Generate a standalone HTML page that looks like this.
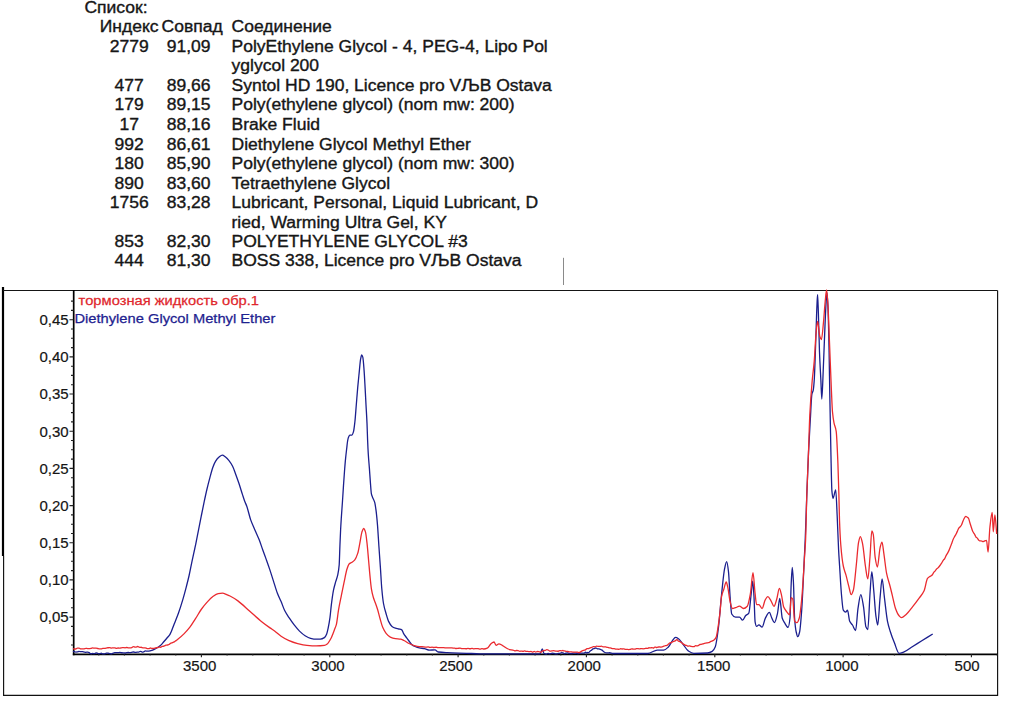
<!DOCTYPE html>
<html><head><meta charset="utf-8"><title>Spectrum</title>
<style>
html,body{margin:0;padding:0;background:#fff;}
svg{display:block;}
text{font-family:"Liberation Sans",Arial,sans-serif;}
</style></head>
<body>
<svg width="1009" height="705" viewBox="0 0 1009 705">
<rect x="0" y="0" width="1009" height="705" fill="#fff"/>
<g transform="scale(1.095 1)" font-size="16" fill="#161616" stroke="#161616" stroke-width="0.35">
<text x="77.08" y="12.70">Список:</text>
<text x="117.99" y="32.16" text-anchor="middle">Индекс</text>
<text x="147.58" y="32.16">Совпад</text>
<text x="211.42" y="32.16">Соединение</text>
<text x="117.99" y="51.62" text-anchor="middle">2779</text>
<text x="172.24" y="51.62" text-anchor="middle">91,09</text>
<text x="211.42" y="51.62">PolyEthylene Glycol - 4, PEG-4, Lipo Pol</text>
<text x="211.42" y="71.08">yglycol 200</text>
<text x="117.99" y="90.54" text-anchor="middle">477</text>
<text x="172.24" y="90.54" text-anchor="middle">89,66</text>
<text x="211.42" y="90.54">Syntol HD 190, Licence pro VЉB Ostava</text>
<text x="117.99" y="110.40" text-anchor="middle">179</text>
<text x="172.24" y="110.40" text-anchor="middle">89,15</text>
<text x="211.42" y="110.40">Poly(ethylene glycol) (nom mw: 200)</text>
<text x="117.99" y="130.36" text-anchor="middle">17</text>
<text x="172.24" y="130.36" text-anchor="middle">88,16</text>
<text x="211.42" y="130.36">Brake Fluid</text>
<text x="117.99" y="149.82" text-anchor="middle">992</text>
<text x="172.24" y="149.82" text-anchor="middle">86,61</text>
<text x="211.42" y="149.82">Diethylene Glycol Methyl Ether</text>
<text x="117.99" y="169.28" text-anchor="middle">180</text>
<text x="172.24" y="169.28" text-anchor="middle">85,90</text>
<text x="211.42" y="169.28">Poly(ethylene glycol) (nom mw: 300)</text>
<text x="117.99" y="188.74" text-anchor="middle">890</text>
<text x="172.24" y="188.74" text-anchor="middle">83,60</text>
<text x="211.42" y="188.74">Tetraethylene Glycol</text>
<text x="117.99" y="208.20" text-anchor="middle">1756</text>
<text x="172.24" y="208.20" text-anchor="middle">83,28</text>
<text x="211.42" y="208.20">Lubricant, Personal, Liquid Lubricant, D</text>
<text x="211.42" y="227.66">ried, Warming Ultra Gel, KY</text>
<text x="117.99" y="247.12" text-anchor="middle">853</text>
<text x="172.24" y="247.12" text-anchor="middle">82,30</text>
<text x="211.42" y="247.12">POLYETHYLENE GLYCOL #3</text>
<text x="117.99" y="266.18" text-anchor="middle">444</text>
<text x="172.24" y="266.18" text-anchor="middle">81,30</text>
<text x="211.42" y="266.18">BOSS 338, Licence pro VЉB Ostava</text>
</g>
<line x1="563.5" y1="257.8" x2="563.5" y2="285" stroke="#8a8a8a" stroke-width="1"/>
<!-- outer frame -->
<path d="M3,287 V556" stroke="#000" stroke-width="2.2" fill="none"/>
<path d="M3.6,556 V695.4 H997.6 V290.5" stroke="#111" stroke-width="1.15" fill="none"/>
<path d="M3,290.5 H997.6" stroke="#151515" stroke-width="1.1" fill="none"/>
<!-- axes -->
<path d="M73.7,290 V655.2" stroke="#000" stroke-width="1.7" fill="none"/>
<path d="M72.8,654.3 H997.5" stroke="#000" stroke-width="1.7" fill="none"/>
<path d="M71.0,645.0H73.5 M71.0,635.7H73.5 M71.0,626.4H73.5 M69.5,617.1H73.5 M71.0,607.8H73.5 M71.0,598.5H73.5 M71.0,589.2H73.5 M69.5,579.9H73.5 M71.0,570.6H73.5 M71.0,561.3H73.5 M71.0,552.1H73.5 M69.5,542.8H73.5 M71.0,533.5H73.5 M71.0,524.2H73.5 M71.0,514.9H73.5 M69.5,505.6H73.5 M71.0,496.3H73.5 M71.0,487.0H73.5 M71.0,477.7H73.5 M69.5,468.4H73.5 M71.0,459.1H73.5 M71.0,449.8H73.5 M71.0,440.5H73.5 M69.5,431.2H73.5 M71.0,421.9H73.5 M71.0,412.6H73.5 M71.0,403.3H73.5 M69.5,394.0H73.5 M71.0,384.7H73.5 M71.0,375.4H73.5 M71.0,366.2H73.5 M69.5,356.9H73.5 M71.0,347.6H73.5 M71.0,338.3H73.5 M71.0,329.0H73.5 M69.5,319.7H73.5 M71.0,310.4H73.5 M71.0,301.1H73.5 M98.8,654.3V655.5 M124.4,654.3V655.5 M150.1,654.3V655.5 M175.8,654.3V655.5 M201.4,654.3V657.3 M227.1,654.3V655.5 M252.8,654.3V655.5 M278.4,654.3V655.5 M304.1,654.3V655.5 M329.8,654.3V657.3 M355.4,654.3V655.5 M381.1,654.3V655.5 M406.8,654.3V655.5 M432.4,654.3V655.5 M458.1,654.3V657.3 M483.8,654.3V655.5 M509.4,654.3V655.5 M535.1,654.3V655.5 M560.8,654.3V655.5 M586.4,654.3V657.3 M612.1,654.3V655.5 M637.8,654.3V655.5 M663.4,654.3V655.5 M689.1,654.3V655.5 M714.8,654.3V657.3 M740.4,654.3V655.5 M766.1,654.3V655.5 M791.8,654.3V655.5 M817.4,654.3V655.5 M843.1,654.3V657.3 M868.8,654.3V655.5 M894.4,654.3V655.5 M920.1,654.3V655.5 M945.8,654.3V655.5 M971.4,654.3V657.3 M997.1,654.3V655.5" stroke="#222" stroke-width="1.1" fill="none"/>
<g font-size="15" fill="#151515" stroke="#151515" stroke-width="0.2">
<text x="68.6" y="622.4" text-anchor="end">0,05</text>
<text x="68.6" y="585.2" text-anchor="end">0,10</text>
<text x="68.6" y="548.1" text-anchor="end">0,15</text>
<text x="68.6" y="510.9" text-anchor="end">0,20</text>
<text x="68.6" y="473.7" text-anchor="end">0,25</text>
<text x="68.6" y="436.5" text-anchor="end">0,30</text>
<text x="68.6" y="399.3" text-anchor="end">0,35</text>
<text x="68.6" y="362.2" text-anchor="end">0,40</text>
<text x="68.6" y="325.0" text-anchor="end">0,45</text>
<text x="183.0" y="670.6">3500</text>
<text x="311.3" y="670.6">3000</text>
<text x="439.2" y="670.6">2500</text>
<text x="567.6" y="670.6">2000</text>
<text x="697.1" y="670.6">1500</text>
<text x="825.2" y="670.6">1000</text>
<text x="954.6" y="670.6">500</text>
</g>
<!-- legend -->
<g transform="scale(1.09 1)" font-size="13.5">
<text x="72.11" y="305.0" fill="#e0262c" stroke="#e0262c" stroke-width="0.25">тормозная жидкость обр.1</text>
<text x="68.26" y="322.8" fill="#1e2290" stroke="#1e2290" stroke-width="0.25">Diethylene Glycol Methyl Ether</text>
</g>
<!-- curves -->
<path d="M73.00,651.80C73.33,651.67 73.67,651.41 74.00,651.41C74.57,651.41 75.13,652.07 75.70,652.07C76.27,652.07 76.83,652.01 77.40,651.94C77.97,651.87 78.53,651.38 79.10,651.38C79.40,651.38 79.70,651.57 80.00,651.60C80.27,651.63 80.53,651.64 80.80,651.65C81.37,651.68 81.93,651.68 82.50,651.72C83.07,651.75 83.63,651.94 84.20,652.03C84.77,652.12 85.33,652.28 85.90,652.28C86.47,652.28 87.03,652.15 87.60,652.15C88.17,652.15 88.73,652.39 89.30,652.68C89.53,652.80 89.77,653.28 90.00,653.40C90.33,653.58 90.67,653.75 91.00,653.75C91.57,653.75 92.13,653.36 92.70,653.36C93.27,653.36 93.83,653.71 94.40,653.71C94.97,653.71 95.53,652.96 96.10,652.96C96.67,652.96 97.23,653.30 97.80,653.42C98.37,653.54 98.93,653.72 99.50,653.72C100.07,653.72 100.63,653.24 101.20,653.24C101.77,653.24 102.33,653.97 102.90,653.97C103.47,653.97 104.03,653.96 104.60,653.95C105.17,653.93 105.73,653.09 106.30,653.09C106.87,653.09 107.43,653.10 108.00,653.11C108.57,653.11 109.13,653.53 109.70,653.64C110.27,653.74 110.83,653.86 111.40,653.86C111.97,653.86 112.53,653.26 113.10,653.09C113.67,652.92 114.23,652.72 114.80,652.72C115.37,652.71 115.93,652.71 116.50,652.71C117.00,652.71 117.50,652.64 118.00,652.60C118.63,652.55 119.27,652.43 119.90,652.43C120.47,652.43 121.03,652.67 121.60,652.74C122.17,652.81 122.73,652.86 123.30,652.90C123.87,652.94 124.43,653.00 125.00,653.00C125.57,653.00 126.13,652.69 126.70,652.63C127.27,652.57 127.83,652.51 128.40,652.51C128.97,652.51 129.53,652.65 130.10,652.65C130.67,652.65 131.23,652.49 131.80,652.38C132.37,652.28 132.93,652.01 133.50,652.01C134.00,652.01 134.50,652.40 135.00,652.40C135.63,652.40 136.27,652.27 136.90,652.22C137.47,652.17 138.03,652.16 138.60,652.09C139.17,652.01 139.73,651.41 140.30,651.41C140.63,651.41 140.97,651.50 141.30,651.60C141.53,651.67 141.77,652.04 142.00,652.04C142.57,652.04 143.13,651.92 143.70,651.79C144.27,651.66 144.83,650.93 145.40,650.93C145.93,650.93 146.47,651.20 147.00,651.20C147.60,651.20 148.20,651.15 148.80,651.10C149.87,651.00 150.93,650.64 152.00,650.30C153.33,649.88 154.67,649.21 156.00,648.50C157.47,647.72 158.93,646.84 160.40,645.60C161.60,644.59 162.80,642.88 164.00,641.50C165.00,640.35 166.00,639.20 167.00,638.00C168.00,636.80 169.00,635.91 170.00,634.30C171.43,631.99 172.87,627.29 174.30,623.70C175.70,620.19 177.10,616.92 178.50,613.00C179.93,608.98 181.37,604.44 182.80,599.60C183.97,595.66 185.13,591.28 186.30,586.80C187.23,583.21 188.17,579.63 189.10,575.50C190.07,571.23 191.03,565.87 192.00,561.30C192.93,556.89 193.87,552.82 194.80,548.50C195.10,547.11 195.40,545.75 195.70,544.30C196.63,539.80 197.57,534.83 198.50,530.10C199.43,525.37 200.37,520.55 201.30,515.90C202.27,511.08 203.23,506.25 204.20,501.70C205.13,497.31 206.07,492.93 207.00,489.00C207.97,484.93 208.93,481.20 209.90,477.60C210.83,474.13 211.77,470.29 212.70,467.70C213.63,465.11 214.57,462.76 215.50,461.30C216.70,459.42 217.90,458.04 219.10,457.10C220.17,456.27 221.23,455.20 222.30,455.20C223.37,455.20 224.43,456.31 225.50,457.10C226.67,457.97 227.83,459.17 229.00,460.60C230.20,462.07 231.40,463.94 232.60,466.30C233.53,468.14 234.47,470.91 235.40,473.40C236.57,476.51 237.73,479.83 238.90,483.30C240.10,486.87 241.30,490.89 242.50,494.60C243.20,496.76 243.90,499.13 244.60,501.00C245.30,502.87 246.00,504.06 246.70,506.00C248.03,509.70 249.37,516.13 250.70,519.90C252.10,523.86 253.50,526.62 254.90,529.90C256.33,533.26 257.77,536.15 259.20,539.80C260.37,542.77 261.53,546.45 262.70,549.70C263.90,553.05 265.10,556.24 266.30,559.60C267.47,562.87 268.63,566.11 269.80,569.60C271.00,573.19 272.20,577.16 273.40,580.90C274.73,585.06 276.07,589.84 277.40,593.30C278.63,596.50 279.87,598.69 281.10,601.60C282.33,604.51 283.57,608.37 284.80,610.80C286.33,613.82 287.87,615.89 289.40,618.20C290.93,620.51 292.47,622.74 294.00,624.70C295.83,627.05 297.67,629.33 299.50,631.10C301.37,632.90 303.23,634.58 305.10,635.70C306.93,636.80 308.77,637.85 310.60,638.30C312.43,638.75 314.27,639.20 316.10,639.20C317.50,639.20 318.90,639.20 320.30,639.20C321.67,639.20 323.03,638.51 324.40,637.60C325.17,637.09 325.93,635.71 326.70,633.90C327.17,632.80 327.63,630.57 328.10,628.40C328.73,625.45 329.37,621.88 330.00,617.30C330.47,613.92 330.93,608.08 331.40,604.40C332.10,598.88 332.80,593.65 333.50,590.20C334.23,586.59 334.97,584.34 335.70,581.70C336.40,579.18 337.10,577.88 337.80,574.60C338.27,572.41 338.73,570.26 339.20,564.70C339.43,561.92 339.67,552.06 339.90,546.30C340.13,540.54 340.37,534.61 340.60,530.00C340.83,525.39 341.07,521.65 341.30,518.00C341.70,511.74 342.10,506.95 342.50,501.00C342.83,496.04 343.17,490.36 343.50,485.40C343.83,480.44 344.17,475.47 344.50,471.20C344.87,466.50 345.23,462.12 345.60,458.40C345.97,454.68 346.33,451.67 346.70,448.50C347.00,445.91 347.30,442.65 347.60,441.00C347.90,439.35 348.20,437.98 348.50,437.30C348.97,436.24 349.43,435.20 349.90,435.20C350.53,435.20 351.17,435.20 351.80,435.20C352.37,435.20 352.93,433.48 353.50,431.60C353.97,430.05 354.43,425.87 354.90,421.70C355.37,417.53 355.83,410.38 356.30,404.70C356.77,399.02 357.23,392.77 357.70,387.60C358.17,382.43 358.63,377.97 359.10,373.40C359.60,368.50 360.10,361.91 360.60,359.20C360.97,357.21 361.33,354.90 361.70,354.90C362.07,354.90 362.43,355.89 362.80,357.10C363.23,358.53 363.67,364.95 364.10,370.60C364.43,374.94 364.77,381.61 365.10,387.60C365.40,392.99 365.70,399.09 366.00,404.70C366.33,410.93 366.67,415.55 367.00,423.10C367.20,427.63 367.40,435.26 367.60,440.00C367.83,445.53 368.07,450.46 368.30,454.20C368.67,460.08 369.03,463.44 369.40,468.40C369.73,472.91 370.07,478.40 370.40,482.60C370.73,486.80 371.07,492.33 371.40,493.90C371.80,495.79 372.20,496.34 372.60,497.40C373.30,499.25 374.00,499.93 374.70,502.40C375.17,504.04 375.63,507.36 376.10,510.90C376.57,514.44 377.03,519.43 377.50,525.10C377.97,530.77 378.43,539.46 378.90,546.30C379.40,553.63 379.90,560.27 380.40,567.60C380.87,574.44 381.33,583.62 381.80,588.80C382.37,595.09 382.93,600.36 383.50,603.50C384.37,608.30 385.23,610.71 386.10,613.70C386.93,616.57 387.77,619.69 388.60,621.40C389.73,623.73 390.87,625.65 392.00,626.50C393.13,627.35 394.27,627.84 395.40,628.20C396.53,628.56 397.67,628.70 398.80,629.00C399.80,629.26 400.80,629.34 401.80,629.90C402.37,630.22 402.93,632.34 403.50,633.30C404.50,635.00 405.50,636.21 406.50,637.60C407.33,638.76 408.17,639.89 409.00,641.00C409.87,642.16 410.73,643.66 411.60,644.40C412.73,645.37 413.87,646.01 415.00,646.50C416.43,647.12 417.87,647.62 419.30,647.90C421.00,648.23 422.70,648.28 424.40,648.60C426.10,648.92 427.80,650.10 429.50,650.10C431.33,650.10 433.17,649.90 435.00,649.90C436.07,649.90 437.13,651.83 438.20,652.00C441.20,652.48 444.20,652.56 447.20,652.70C453.63,653.00 460.07,653.08 466.50,653.30C471.00,653.45 475.50,653.80 480.00,653.80C500.00,653.80 520.00,653.80 540.00,653.80C540.77,653.80 541.53,649.00 542.30,649.00C542.87,649.00 543.43,653.23 544.00,653.50C544.33,653.66 544.67,653.70 545.00,653.78C545.50,653.90 546.00,654.08 546.50,654.08C547.00,654.08 547.50,653.34 548.00,653.34C548.50,653.34 549.00,653.89 549.50,653.89C550.00,653.89 550.50,653.76 551.00,653.65C551.50,653.54 552.00,653.12 552.50,653.12C553.00,653.12 553.50,653.37 554.00,653.50C554.50,653.63 555.00,653.89 555.50,653.89C556.00,653.89 556.50,653.86 557.00,653.82C557.50,653.78 558.00,653.34 558.50,653.33C559.00,653.31 559.50,653.32 560.00,653.30C560.50,653.28 561.00,652.64 561.50,652.64C562.00,652.64 562.50,652.79 563.00,652.93C563.50,653.07 564.00,653.70 564.50,653.70C565.00,653.70 565.50,653.30 566.00,653.16C566.50,653.01 567.00,652.81 567.50,652.81C568.00,652.81 568.50,653.23 569.00,653.33C569.50,653.43 570.00,653.54 570.50,653.54C571.00,653.54 571.50,653.52 572.00,653.49C572.50,653.47 573.00,653.07 573.50,653.07C574.00,653.07 574.50,653.12 575.00,653.15C575.50,653.18 576.00,653.19 576.50,653.24C577.00,653.29 577.50,653.61 578.00,653.61C578.50,653.61 579.00,653.33 579.50,653.25C580.00,653.17 580.50,653.06 581.00,653.06C581.50,653.06 582.00,653.19 582.50,653.19C583.00,653.20 583.50,653.20 584.00,653.20C584.50,653.20 585.00,652.27 585.50,652.27C586.00,652.27 586.50,652.90 587.00,652.90C587.20,652.90 587.40,652.50 587.60,652.50C587.90,652.50 588.20,652.67 588.50,652.67C589.00,652.67 589.50,651.68 590.00,651.27C590.50,650.85 591.00,650.53 591.50,650.14C592.00,649.74 592.50,649.14 593.00,648.91C593.50,648.68 594.00,648.65 594.50,648.43C594.83,648.29 595.17,647.80 595.50,647.80C596.17,647.80 596.83,648.70 597.50,648.80C598.00,648.88 598.50,648.88 599.00,648.95C599.43,649.01 599.87,649.15 600.30,649.30C600.87,649.49 601.43,649.73 602.00,650.08C602.50,650.39 603.00,651.11 603.50,651.50C604.00,651.89 604.50,652.35 605.00,652.50C605.50,652.65 606.00,652.78 606.50,652.80C607.00,652.81 607.50,652.82 608.00,652.82C608.50,652.82 609.00,652.74 609.50,652.74C610.67,652.74 611.83,653.50 613.00,653.50C624.60,653.50 636.20,653.50 647.80,653.50C650.97,653.50 654.13,650.10 657.30,650.10C659.43,650.10 661.57,650.10 663.70,650.10C665.27,650.10 666.83,648.48 668.40,647.00C669.73,645.74 671.07,642.23 672.40,640.60C673.47,639.30 674.53,637.40 675.60,637.40C676.67,637.40 677.73,638.25 678.80,639.00C680.10,639.91 681.40,642.18 682.70,643.80C684.57,646.13 686.43,649.69 688.30,650.90C690.13,652.09 691.97,653.30 693.80,653.30C698.37,653.30 702.93,653.22 707.50,653.00C709.07,652.92 710.63,652.31 712.20,651.40C713.23,650.80 714.27,649.20 715.30,646.70C716.33,644.20 717.37,635.94 718.40,628.00C719.43,620.06 720.47,604.97 721.50,595.20C722.53,585.43 723.57,573.52 724.60,568.70C725.30,565.43 726.00,561.70 726.70,561.70C727.30,561.70 727.90,566.80 728.50,571.80C729.03,576.24 729.57,590.01 730.10,596.80C730.63,603.59 731.17,613.10 731.70,614.00C733.00,616.19 734.30,617.10 735.60,617.10C736.90,617.10 738.20,617.10 739.50,617.10C740.53,617.10 741.57,620.20 742.60,620.20C743.63,620.20 744.67,616.53 745.70,615.50C746.73,614.47 747.77,614.66 748.80,613.20C749.60,612.07 750.40,600.29 751.20,593.70C751.70,589.58 752.20,581.20 752.70,581.20C753.13,581.20 753.57,589.93 754.00,596.80C754.37,602.61 754.73,619.74 755.10,621.80C755.60,624.61 756.10,626.40 756.60,626.40C757.37,626.40 758.13,624.90 758.90,624.90C759.97,624.90 761.03,627.20 762.10,627.20C763.13,627.20 764.17,620.62 765.20,618.60C766.60,615.86 768.00,612.40 769.40,612.40C770.17,612.40 770.93,616.23 771.70,617.80C772.60,619.65 773.50,622.70 774.40,622.70C775.43,622.70 776.47,617.64 777.50,613.30C778.27,610.08 779.03,598.50 779.80,598.50C780.60,598.50 781.40,615.40 782.20,618.00C782.97,620.49 783.73,621.46 784.50,622.70C785.70,624.64 786.90,627.40 788.10,627.40C788.73,627.40 789.37,623.64 790.00,618.00C790.40,614.44 790.80,591.50 791.20,583.70C791.57,576.55 791.93,567.30 792.30,567.30C792.70,567.30 793.10,576.06 793.50,583.70C793.87,590.71 794.23,612.81 794.60,618.00C795.13,625.55 795.67,629.65 796.20,632.00C796.73,634.35 797.27,636.70 797.80,636.70C798.40,636.70 799.00,634.47 799.60,632.00C800.30,629.12 801.00,619.71 801.70,610.20C802.37,601.14 803.03,584.64 803.70,571.20C804.20,561.12 804.70,551.93 805.20,540.00C805.73,527.28 806.27,509.21 806.80,495.10C807.37,480.11 807.93,464.52 808.50,452.60C809.10,439.98 809.70,430.22 810.30,420.00C810.83,410.91 811.37,396.78 811.90,394.20C812.33,392.11 812.77,392.39 813.20,390.40C813.53,388.87 813.87,385.31 814.20,380.80C814.70,374.03 815.20,356.20 815.70,342.50C816.13,330.63 816.57,312.87 817.00,304.20C817.20,300.20 817.40,294.60 817.60,294.60C817.87,294.60 818.13,306.22 818.40,313.70C818.77,323.99 819.13,342.42 819.50,352.00C819.97,364.19 820.43,371.29 820.90,380.80C821.20,386.91 821.50,399.00 821.80,399.00C822.27,399.00 822.73,381.61 823.20,371.20C823.70,360.05 824.20,344.72 824.70,332.90C825.13,322.66 825.57,310.66 826.00,304.20C826.33,299.23 826.67,292.70 827.00,292.70C827.33,292.70 827.67,300.67 828.00,308.00C828.37,316.06 828.73,333.95 829.10,352.00C829.33,363.48 829.57,381.73 829.80,395.00C830.17,415.85 830.53,436.42 830.90,452.60C831.23,467.31 831.57,487.04 831.90,490.90C832.27,495.14 832.63,498.30 833.00,498.30C833.90,498.30 834.80,489.80 835.70,489.80C836.20,489.80 836.70,506.18 837.20,516.40C837.67,525.93 838.13,541.14 838.60,550.00C838.93,556.33 839.27,560.76 839.60,566.00C840.20,575.43 840.80,587.02 841.40,593.70C842.03,600.75 842.67,609.25 843.30,610.20C844.10,611.40 844.90,612.10 845.70,612.10C846.30,612.10 846.90,610.20 847.50,610.20C848.23,610.20 848.97,619.73 849.70,621.30C850.63,623.30 851.57,623.59 852.50,625.00C853.53,626.56 854.57,630.50 855.60,630.50C856.40,630.50 857.20,613.58 858.00,608.40C858.93,602.36 859.87,594.60 860.80,594.60C861.70,594.60 862.60,601.33 863.50,606.60C864.30,611.28 865.10,624.85 865.90,626.80C866.53,628.35 867.17,629.60 867.80,629.60C868.53,629.60 869.27,603.93 870.00,593.70C870.60,585.33 871.20,571.60 871.80,571.60C872.43,571.60 873.07,583.30 873.70,590.00C874.43,597.76 875.17,610.65 875.90,615.80C876.50,620.02 877.10,625.00 877.70,625.00C878.50,625.00 879.30,605.58 880.10,597.40C880.77,590.59 881.43,578.90 882.10,578.90C882.87,578.90 883.63,591.36 884.40,597.40C885.43,605.54 886.47,616.16 887.50,621.30C888.37,625.61 889.23,628.22 890.10,631.00C891.57,635.70 893.03,639.50 894.50,643.10C896.03,646.87 897.57,653.30 899.10,653.30C900.60,653.30 902.10,652.70 903.60,652.20C906.63,651.18 909.67,648.40 912.70,646.50C915.73,644.60 918.77,642.70 921.80,640.80C925.43,638.53 929.07,636.27 932.70,634.00" stroke="#1b1f8e" stroke-width="1.3" fill="none" stroke-linejoin="round"/>
<path d="M73.00,648.50C73.33,648.67 73.67,649.01 74.00,649.01C74.57,649.01 75.13,649.02 75.70,649.02C76.27,649.02 76.83,648.05 77.40,648.05C77.97,648.05 78.53,648.07 79.10,648.09C79.67,648.12 80.23,648.93 80.80,648.93C81.37,648.93 81.93,648.86 82.50,648.84C83.07,648.81 83.63,648.82 84.20,648.78C84.47,648.76 84.73,648.67 85.00,648.60C85.30,648.53 85.60,648.35 85.90,648.35C86.47,648.35 87.03,648.61 87.60,648.61C88.17,648.61 88.73,648.57 89.30,648.55C89.87,648.52 90.43,648.50 91.00,648.45C91.57,648.40 92.13,647.92 92.70,647.92C93.27,647.92 93.83,648.15 94.40,648.15C94.97,648.15 95.53,648.10 96.10,648.10C96.67,648.10 97.23,648.38 97.80,648.50C98.37,648.62 98.93,648.83 99.50,648.83C100.07,648.83 100.63,648.83 101.20,648.82C101.77,648.81 102.33,648.45 102.90,648.41C103.47,648.36 104.03,648.37 104.60,648.33C105.17,648.29 105.73,648.18 106.30,648.08C106.87,647.98 107.43,647.79 108.00,647.74C108.57,647.69 109.13,647.65 109.70,647.65C110.27,647.65 110.83,648.04 111.40,648.04C111.97,648.04 112.53,647.81 113.10,647.80C113.67,647.78 114.23,647.78 114.80,647.78C115.37,647.78 115.93,648.37 116.50,648.37C117.07,648.37 117.63,648.02 118.20,648.02C118.77,648.02 119.33,648.11 119.90,648.11C120.47,648.11 121.03,647.89 121.60,647.80C122.17,647.70 122.73,647.53 123.30,647.53C123.87,647.53 124.43,647.80 125.00,647.80C125.57,647.80 126.13,647.52 126.70,647.52C127.27,647.52 127.83,647.87 128.40,647.87C128.93,647.87 129.47,647.84 130.00,647.80C130.60,647.76 131.20,647.68 131.80,647.54C132.37,647.41 132.93,646.58 133.50,646.58C134.07,646.58 134.63,647.11 135.20,647.11C135.77,647.11 136.33,646.97 136.90,646.82C137.20,646.74 137.50,646.40 137.80,646.40C138.07,646.40 138.33,646.74 138.60,646.86C139.17,647.12 139.73,647.47 140.30,647.47C140.53,647.47 140.77,647.20 141.00,647.20C141.33,647.20 141.67,647.56 142.00,647.64C142.57,647.78 143.13,647.92 143.70,647.92C144.13,647.92 144.57,647.80 145.00,647.80C145.70,647.80 146.40,648.44 147.10,648.54C147.67,648.62 148.23,648.69 148.80,648.69C149.37,648.69 149.93,647.98 150.50,647.98C151.00,647.98 151.50,648.50 152.00,648.50C152.63,648.50 153.27,648.47 153.90,648.42C154.47,648.38 155.03,647.96 155.60,647.86C156.17,647.76 156.73,647.74 157.30,647.65C157.53,647.61 157.77,647.56 158.00,647.50C158.33,647.42 158.67,647.22 159.00,647.22C159.57,647.22 160.13,647.23 160.70,647.23C161.27,647.23 161.83,646.37 162.40,646.31C162.97,646.25 163.53,646.27 164.10,646.21C164.40,646.17 164.70,645.79 165.00,645.60C165.27,645.43 165.53,645.15 165.80,645.12C166.37,645.05 166.93,645.08 167.50,645.02C168.07,644.96 168.63,644.64 169.20,644.36C169.77,644.08 170.33,643.46 170.90,643.20C171.27,643.03 171.63,642.94 172.00,642.80C172.77,642.51 173.53,642.28 174.30,641.87C174.87,641.58 175.43,641.05 176.00,640.63C176.60,640.19 177.20,639.78 177.80,639.30C179.93,637.60 182.07,635.72 184.20,633.60C186.10,631.71 188.00,629.65 189.90,627.20C191.77,624.79 193.63,621.62 195.50,618.70C197.40,615.73 199.30,612.17 201.20,609.50C203.10,606.83 205.00,604.51 206.90,602.40C208.80,600.29 210.70,598.05 212.60,596.70C214.47,595.37 216.33,593.89 218.20,593.60C219.63,593.38 221.07,593.20 222.50,593.20C223.90,593.20 225.30,594.07 226.70,594.60C227.80,595.01 228.90,595.46 230.00,596.00C232.63,597.29 235.27,599.01 237.90,600.90C241.87,603.75 245.83,607.83 249.80,611.30C253.77,614.77 257.73,618.52 261.70,621.70C264.47,623.92 267.23,625.91 270.00,627.90C271.53,629.00 273.07,629.97 274.60,631.10C276.77,632.69 278.93,634.77 281.10,636.20C283.57,637.83 286.03,639.33 288.50,640.40C291.57,641.73 294.63,642.83 297.70,643.60C300.77,644.37 303.83,645.14 306.90,645.40C309.97,645.66 313.03,645.90 316.10,645.90C318.87,645.90 321.63,645.74 324.40,645.40C325.33,645.28 326.27,644.68 327.20,644.00C328.43,643.10 329.67,640.79 330.90,638.50C332.13,636.21 333.37,632.56 334.60,629.30C335.20,627.72 335.80,626.64 336.40,624.30C337.10,621.57 337.80,614.18 338.50,610.10C339.43,604.65 340.37,600.55 341.30,595.90C342.27,591.08 343.23,586.25 344.20,581.70C345.13,577.31 346.07,571.87 347.00,569.00C347.70,566.85 348.40,564.71 349.10,564.00C350.07,563.02 351.03,562.90 352.00,562.20C352.93,561.53 353.87,560.95 354.80,559.80C355.77,558.61 356.73,556.37 357.70,553.40C358.40,551.25 359.10,546.94 359.80,543.40C360.50,539.86 361.20,534.20 361.90,532.10C362.47,530.40 363.03,528.50 363.60,528.50C364.23,528.50 364.87,530.16 365.50,532.10C366.07,533.83 366.63,539.78 367.20,544.90C367.67,549.12 368.13,555.30 368.60,560.50C369.07,565.70 369.53,571.43 370.00,576.10C370.47,580.77 370.93,585.95 371.40,588.80C372.03,592.66 372.67,595.15 373.30,597.30C374.00,599.67 374.70,601.02 375.40,603.00C376.13,605.07 376.87,607.09 377.60,609.50C378.43,612.24 379.27,615.90 380.10,618.80C380.97,621.82 381.83,625.29 382.70,627.30C383.83,629.93 384.97,631.93 386.10,633.30C387.50,634.99 388.90,636.47 390.30,637.10C392.00,637.87 393.70,638.35 395.40,638.60C397.10,638.85 398.80,638.82 400.50,639.10C401.63,639.29 402.77,639.96 403.90,640.50C405.60,641.31 407.30,642.68 409.00,643.50C410.70,644.32 412.40,645.12 414.10,645.60C415.83,646.08 417.57,646.58 419.30,646.70C419.53,646.72 419.77,646.73 420.00,646.73C420.67,646.73 421.33,646.69 422.00,646.69C422.67,646.69 423.33,646.79 424.00,646.87C424.67,646.95 425.33,647.21 426.00,647.21C426.67,647.21 427.33,646.94 428.00,646.94C428.67,646.94 429.33,647.43 430.00,647.43C430.67,647.43 431.33,647.09 432.00,647.09C432.67,647.09 433.33,647.52 434.00,647.52C434.33,647.52 434.67,647.33 435.00,647.30C435.33,647.27 435.67,647.23 436.00,647.23C436.67,647.23 437.33,647.71 438.00,647.71C438.67,647.71 439.33,647.67 440.00,647.65C440.67,647.64 441.33,647.62 442.00,647.62C442.67,647.62 443.33,647.68 444.00,647.72C444.67,647.77 445.33,647.87 446.00,647.90C446.67,647.92 447.33,647.95 448.00,647.95C448.67,647.95 449.33,647.88 450.00,647.88C450.67,647.88 451.33,647.89 452.00,647.91C452.67,647.92 453.33,648.15 454.00,648.18C454.20,648.19 454.40,648.19 454.60,648.20C455.07,648.22 455.53,648.50 456.00,648.50C456.67,648.50 457.33,648.43 458.00,648.37C458.67,648.31 459.33,648.09 460.00,648.09C460.67,648.09 461.33,648.59 462.00,648.59C462.67,648.59 463.33,648.59 464.00,648.59C464.67,648.59 465.33,648.75 466.00,648.75C466.67,648.75 467.33,648.38 468.00,648.38C468.67,648.38 469.33,648.76 470.00,648.76C470.67,648.76 471.33,648.40 472.00,648.40C472.67,648.40 473.33,648.81 474.00,648.81C474.67,648.81 475.33,648.64 476.00,648.64C476.67,648.64 477.33,648.65 478.00,648.67C478.67,648.68 479.33,649.11 480.00,649.11C480.67,649.11 481.33,648.70 482.00,648.70C482.67,648.70 483.33,649.01 484.00,649.01C485.10,649.01 486.20,648.64 487.30,648.20C488.53,647.71 489.77,644.77 491.00,643.80C492.00,643.01 493.00,642.00 494.00,642.00C494.73,642.00 495.47,645.30 496.20,645.30C497.10,645.30 498.00,643.80 498.90,643.80C500.00,643.80 501.10,644.73 502.20,645.30C504.17,646.32 506.13,648.29 508.10,649.00C510.07,649.71 512.03,649.86 514.00,650.50C514.33,650.61 514.67,650.90 515.00,650.90C515.53,650.90 516.07,650.48 516.60,650.48C517.13,650.48 517.67,650.52 518.20,650.58C518.73,650.64 519.27,651.31 519.80,651.31C520.33,651.31 520.87,651.03 521.40,651.03C521.93,651.03 522.47,651.42 523.00,651.42C523.53,651.42 524.07,650.93 524.60,650.93C525.13,650.93 525.67,651.36 526.20,651.36C526.73,651.36 527.27,651.32 527.80,651.32C528.17,651.32 528.53,651.70 528.90,651.70C529.60,651.70 530.30,651.38 531.00,651.38C531.53,651.38 532.07,652.20 532.60,652.20C533.13,652.20 533.67,651.41 534.20,651.41C534.73,651.41 535.27,652.08 535.80,652.08C536.33,652.08 536.87,651.48 537.40,651.48C537.93,651.48 538.47,651.62 539.00,651.73C539.53,651.85 540.07,652.28 540.60,652.28C541.13,652.28 541.67,651.41 542.20,651.15C542.73,650.90 543.27,650.65 543.80,650.57C544.33,650.48 544.87,650.50 545.40,650.41C545.87,650.33 546.33,649.70 546.80,649.70C547.40,649.70 548.00,649.95 548.60,650.22C548.97,650.39 549.33,651.20 549.70,651.20C550.40,651.20 551.10,650.92 551.80,650.84C552.33,650.78 552.87,650.70 553.40,650.70C553.93,650.70 554.47,650.87 555.00,650.95C555.53,651.02 556.07,651.12 556.60,651.16C557.13,651.20 557.67,651.24 558.20,651.24C558.73,651.24 559.27,650.64 559.80,650.64C560.33,650.64 560.87,650.80 561.40,650.80C561.93,650.80 562.47,650.49 563.00,650.49C563.27,650.49 563.53,650.88 563.80,650.90C564.07,650.92 564.33,650.92 564.60,650.93C565.13,650.97 565.67,651.31 566.20,651.38C566.73,651.45 567.27,651.46 567.80,651.52C568.33,651.58 568.87,651.81 569.40,651.83C569.93,651.85 570.47,651.84 571.00,651.86C571.53,651.88 572.07,652.10 572.60,652.12C573.13,652.13 573.67,652.14 574.20,652.14C574.73,652.14 575.27,652.11 575.80,652.09C576.33,652.07 576.87,652.03 577.40,652.03C577.93,652.03 578.47,652.58 579.00,652.58C579.53,652.58 580.07,652.12 580.60,651.83C581.13,651.55 581.67,651.06 582.20,650.84C582.73,650.62 583.27,650.50 583.80,650.35C584.33,650.20 584.87,650.15 585.40,649.94C585.93,649.73 586.47,648.71 587.00,648.64C587.53,648.57 588.07,648.59 588.60,648.53C589.13,648.46 589.67,648.01 590.20,647.83C590.73,647.66 591.27,647.61 591.80,647.42C592.33,647.24 592.87,646.56 593.40,646.56C593.93,646.56 594.47,646.78 595.00,646.78C595.53,646.78 596.07,646.05 596.60,646.05C597.13,646.05 597.67,646.47 598.20,646.47C598.73,646.47 599.27,646.44 599.80,646.40C600.33,646.37 600.87,646.14 601.40,646.14C601.93,646.14 602.47,646.89 603.00,646.89C603.53,646.89 604.07,646.83 604.60,646.83C605.13,646.83 605.67,646.98 606.20,647.07C606.73,647.16 607.27,647.25 607.80,647.37C608.33,647.48 608.87,647.69 609.40,647.80C609.93,647.91 610.47,647.94 611.00,648.06C611.53,648.18 612.07,648.68 612.60,648.68C613.13,648.68 613.67,648.65 614.20,648.65C614.73,648.65 615.27,649.14 615.80,649.16C616.33,649.18 616.87,649.18 617.40,649.19C617.93,649.21 618.47,649.33 619.00,649.33C619.53,649.33 620.07,648.73 620.60,648.73C621.13,648.73 621.67,649.00 622.20,649.00C622.73,649.00 623.27,648.90 623.80,648.90C624.33,648.90 624.87,649.23 625.40,649.29C625.93,649.35 626.47,649.36 627.00,649.40C627.53,649.44 628.07,649.53 628.60,649.53C629.13,649.53 629.67,649.48 630.20,649.41C630.73,649.35 631.27,648.97 631.80,648.97C632.33,648.97 632.87,649.05 633.40,649.07C633.93,649.10 634.47,649.13 635.00,649.13C635.53,649.13 636.07,648.63 636.60,648.62C637.13,648.61 637.67,648.61 638.20,648.61C638.73,648.61 639.27,648.90 639.80,648.90C640.33,648.90 640.87,648.59 641.40,648.59C641.93,648.59 642.47,648.81 643.00,648.81C643.50,648.81 644.00,648.77 644.50,648.72C645.00,648.66 645.50,648.26 646.00,648.26C646.50,648.26 647.00,648.46 647.50,648.46C648.00,648.46 648.50,647.76 649.00,647.76C649.50,647.76 650.00,647.79 650.50,647.79C651.00,647.79 651.50,647.70 652.00,647.70C652.20,647.70 652.40,647.74 652.60,647.78C652.90,647.83 653.20,648.08 653.50,648.08C653.73,648.08 653.97,647.69 654.20,647.53C654.47,647.35 654.73,647.05 655.00,647.05C655.27,647.05 655.53,647.13 655.80,647.20C656.03,647.27 656.27,647.54 656.50,647.54C656.80,647.54 657.10,647.38 657.40,647.31C657.90,647.19 658.40,647.05 658.90,647.00C659.10,646.98 659.30,646.95 659.50,646.95C659.87,646.95 660.23,647.03 660.60,647.03C661.13,647.03 661.67,646.88 662.20,646.76C662.73,646.64 663.27,646.41 663.80,646.23C664.33,646.04 664.87,645.76 665.40,645.64C665.90,645.53 666.40,645.54 666.90,645.40C667.43,645.26 667.97,644.36 668.50,643.93C669.00,643.53 669.50,643.01 670.00,642.87C670.50,642.73 671.00,642.75 671.50,642.62C672.00,642.48 672.50,641.84 673.00,641.64C673.50,641.44 674.00,641.41 674.50,641.21C675.00,641.01 675.50,640.63 676.00,640.19C676.20,640.02 676.40,639.54 676.60,639.54C676.90,639.54 677.20,639.69 677.50,639.89C677.73,640.04 677.97,640.85 678.20,640.99C678.47,641.15 678.73,641.23 679.00,641.29C679.27,641.35 679.53,641.34 679.80,641.42C680.03,641.48 680.27,642.15 680.50,642.17C680.70,642.19 680.90,642.18 681.10,642.20C681.40,642.23 681.70,642.76 682.00,643.02C682.33,643.31 682.67,643.64 683.00,643.85C683.53,644.18 684.07,644.35 684.60,644.63C685.03,644.87 685.47,645.32 685.90,645.40C686.10,645.44 686.30,645.44 686.50,645.47C686.93,645.55 687.37,646.20 687.80,646.20C688.33,646.20 688.87,645.95 689.40,645.95C689.93,645.95 690.47,646.29 691.00,646.40C691.40,646.48 691.80,646.57 692.20,646.60C692.80,646.64 693.40,646.67 694.00,646.67C694.33,646.67 694.67,646.18 695.00,646.00C695.27,645.85 695.53,645.62 695.80,645.62C696.20,645.62 696.60,645.92 697.00,645.92C697.50,645.92 698.00,645.64 698.50,645.43C699.00,645.22 699.50,644.58 700.00,644.51C700.40,644.45 700.80,644.45 701.20,644.40C701.80,644.32 702.40,644.12 703.00,643.93C703.50,643.77 704.00,643.43 704.50,643.32C705.00,643.22 705.50,643.19 706.00,643.11C706.50,643.02 707.00,642.88 707.50,642.80C708.00,642.72 708.50,642.70 709.00,642.59C709.50,642.47 710.00,641.90 710.50,641.63C711.57,641.05 712.63,640.90 713.70,640.20C714.50,639.67 715.30,638.94 716.10,637.40C716.87,635.92 717.63,629.87 718.40,624.90C718.93,621.44 719.47,617.17 720.00,612.40C720.50,607.93 721.00,599.38 721.50,596.80C722.30,592.67 723.10,591.51 723.90,589.00C724.67,586.59 725.43,582.00 726.20,582.00C726.73,582.00 727.27,585.12 727.80,587.40C728.57,590.68 729.33,598.38 730.10,601.50C730.87,604.62 731.63,608.50 732.40,608.50C733.47,608.50 734.53,608.02 735.60,607.70C736.90,607.31 738.20,606.20 739.50,606.20C740.80,606.20 742.10,608.50 743.40,608.50C744.70,608.50 746.00,607.58 747.30,606.20C748.33,605.11 749.37,599.32 750.40,593.70C751.27,588.98 752.13,572.60 753.00,572.60C753.70,572.60 754.40,587.85 755.10,593.70C755.60,597.88 756.10,604.60 756.60,604.60C757.37,604.60 758.13,604.60 758.90,604.60C759.97,604.60 761.03,608.50 762.10,608.50C763.13,608.50 764.17,601.64 765.20,599.90C766.07,598.44 766.93,596.70 767.80,596.70C768.87,596.70 769.93,599.19 771.00,600.80C772.00,602.31 773.00,606.30 774.00,606.30C774.90,606.30 775.80,602.14 776.70,599.30C777.60,596.46 778.50,588.40 779.40,588.40C780.07,588.40 780.73,591.98 781.40,594.60C782.17,597.61 782.93,605.23 783.70,607.10C784.73,609.62 785.77,610.48 786.80,611.80C787.73,612.99 788.67,614.90 789.60,614.90C790.13,614.90 790.67,597.70 791.20,597.70C791.73,597.70 792.27,598.33 792.80,599.30C793.40,600.39 794.00,620.31 794.60,621.10C795.40,622.16 796.20,622.70 797.00,622.70C797.77,622.70 798.53,620.47 799.30,618.00C800.10,615.42 800.90,607.38 801.70,599.30C802.20,594.25 802.70,586.54 803.20,579.00C803.63,572.47 804.07,563.99 804.50,557.00C804.87,551.08 805.23,547.97 805.60,540.00C806.00,531.30 806.40,507.23 806.80,495.10C807.37,477.92 807.93,467.85 808.50,452.60C808.93,440.94 809.37,423.56 809.80,415.00C810.60,399.19 811.40,389.92 812.20,380.80C812.87,373.20 813.53,369.44 814.20,361.60C814.83,354.15 815.47,339.26 816.10,332.90C816.60,327.88 817.10,321.40 817.60,321.40C818.37,321.40 819.13,334.49 819.90,336.70C820.40,338.14 820.90,339.60 821.40,339.60C822.07,339.60 822.73,329.81 823.40,323.30C824.03,317.12 824.67,306.29 825.30,300.30C825.73,296.20 826.17,290.00 826.60,290.00C827.03,290.00 827.47,297.78 827.90,304.20C828.43,312.10 828.97,329.41 829.50,342.50C830.13,358.04 830.77,376.57 831.40,390.40C831.77,398.41 832.13,408.04 832.50,412.00C833.00,417.40 833.50,420.24 834.00,422.80C834.73,426.56 835.47,426.46 836.20,431.30C836.77,435.04 837.33,449.50 837.90,463.20C838.23,471.26 838.57,482.94 838.90,495.10C839.10,502.39 839.30,514.50 839.50,520.00C839.93,531.93 840.37,539.72 840.80,545.00C841.63,555.16 842.47,561.94 843.30,566.00C844.20,570.39 845.10,571.90 846.00,575.20C846.93,578.62 847.87,582.86 848.80,586.30C849.60,589.25 850.40,594.60 851.20,594.60C851.93,594.60 852.67,592.41 853.40,590.00C854.33,586.94 855.27,574.62 856.20,566.00C857.00,558.62 857.80,545.75 858.60,542.10C859.20,539.36 859.80,536.60 860.40,536.60C861.13,536.60 861.87,540.53 862.60,543.90C863.53,548.19 864.47,560.06 865.40,566.00C866.20,571.09 867.00,578.90 867.80,578.90C868.53,578.90 869.27,565.51 870.00,556.80C870.60,549.67 871.20,531.00 871.80,531.00C872.30,531.00 872.80,532.69 873.30,534.70C873.90,537.12 874.50,552.81 875.10,556.80C875.87,561.89 876.63,567.00 877.40,567.00C878.30,567.00 879.20,551.22 880.10,547.60C880.73,545.05 881.37,542.10 882.00,542.10C882.60,542.10 883.20,549.15 883.80,553.10C884.73,559.25 885.67,568.77 886.60,573.40C887.73,579.02 888.87,581.58 890.00,586.00C890.77,588.99 891.53,592.30 892.30,595.40C893.43,599.99 894.57,605.98 895.70,609.00C896.83,612.02 897.97,614.56 899.10,615.80C899.87,616.64 900.63,617.60 901.40,617.60C902.90,617.60 904.40,615.92 905.90,614.70C908.17,612.85 910.43,609.52 912.70,606.70C914.97,603.88 917.23,600.90 919.50,597.70C921.03,595.54 922.57,594.13 924.10,590.80C925.23,588.34 926.37,579.93 927.50,578.40C928.13,577.54 928.77,577.11 929.40,576.71C929.87,576.42 930.33,576.29 930.80,576.02C931.27,575.76 931.73,575.53 932.20,575.07C932.67,574.61 933.13,573.16 933.60,572.57C934.07,571.98 934.53,571.74 935.00,571.19C935.47,570.65 935.93,569.69 936.40,569.20C936.83,568.74 937.27,568.51 937.70,568.10C938.20,567.63 938.70,567.07 939.20,566.49C939.67,565.94 940.13,565.37 940.60,564.71C941.07,564.05 941.53,563.26 942.00,562.49C942.47,561.73 942.93,560.68 943.40,560.10C943.77,559.64 944.13,559.49 944.50,559.00C945.07,558.25 945.63,556.45 946.20,555.41C946.67,554.55 947.13,553.94 947.60,553.11C948.07,552.27 948.53,551.43 949.00,550.38C949.47,549.33 949.93,547.84 950.40,546.65C950.87,545.45 951.33,544.42 951.80,543.18C952.27,541.95 952.73,540.27 953.20,539.23C953.67,538.18 954.13,537.46 954.60,536.62C955.07,535.78 955.53,535.09 956.00,534.20C956.47,533.30 956.93,532.24 957.40,531.17C957.63,530.64 957.87,529.99 958.10,529.50C958.33,529.01 958.57,528.49 958.80,528.17C959.27,527.53 959.73,527.28 960.20,526.74C960.63,526.23 961.07,525.76 961.50,525.00C962.00,524.12 962.50,522.22 963.00,521.04C963.27,520.41 963.53,519.79 963.80,519.30C964.47,518.09 965.13,516.30 965.80,516.30C966.27,516.30 966.73,516.86 967.20,517.20C967.60,517.49 968.00,517.69 968.40,518.20C968.90,518.84 969.40,521.15 969.90,522.70C970.40,524.25 970.90,526.01 971.40,527.53C971.87,528.95 972.33,530.66 972.80,531.57C973.27,532.48 973.73,532.85 974.20,533.62C974.67,534.39 975.13,535.42 975.60,536.27C975.83,536.69 976.07,537.37 976.30,537.50C976.53,537.63 976.77,537.61 977.00,537.73C977.47,537.96 977.93,539.18 978.40,539.70C978.83,540.18 979.27,540.90 979.70,540.90C980.20,540.90 980.70,540.89 981.20,540.89C981.67,540.89 982.13,541.51 982.60,541.51C983.07,541.51 983.53,541.38 984.00,541.26C984.47,541.15 984.93,540.84 985.40,540.69C985.77,540.58 986.13,540.40 986.50,540.40C987.03,540.40 987.57,552.20 988.10,552.20C988.70,552.20 989.30,532.65 989.90,527.30C990.67,520.46 991.43,512.50 992.20,512.50C992.57,512.50 992.93,531.80 993.30,531.80C993.83,531.80 994.37,514.80 994.90,514.80C995.50,514.80 996.10,527.60 996.70,534.00" stroke="#ea2a2f" stroke-width="1.3" fill="none" stroke-linejoin="round"/>
</svg>
</body></html>
